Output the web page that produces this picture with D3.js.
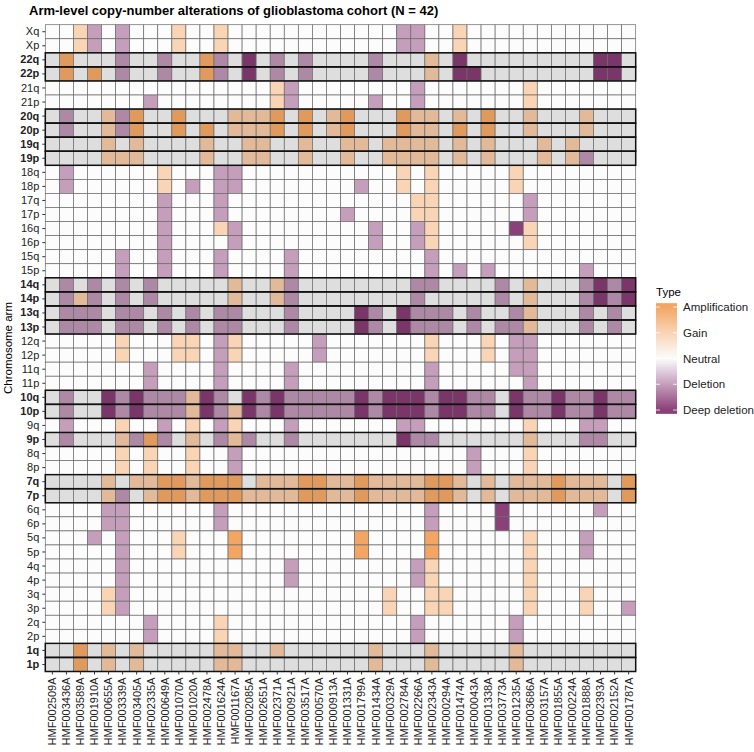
<!DOCTYPE html>
<html>
<head>
<meta charset="utf-8">
<script src="https://cdn.jsdelivr.net/npm/d3@7/dist/d3.min.js"></script>
<style>
  body { margin: 0; background: #fff; }
  text { font-family: "Liberation Sans", Arial, sans-serif; }
</style>
</head>
<body>
<svg id="chart" width="754" height="752"></svg>
<script>
// samples in plotting order (x axis)
var samples = ["HMF002509A","HMF003436A","HMF003589A","HMF001910A","HMF000655A","HMF003339A","HMF003405A",
  "HMF002335A","HMF000649A","HMF001070A","HMF001020A","HMF002478A","HMF001624A","HMF001167A",
  "HMF002085A","HMF002651A","HMF002371A","HMF000921A","HMF003517A","HMF000570A","HMF000913A",
  "HMF001331A","HMF001799A","HMF001434A","HMF000329A","HMF002784A","HMF002266A","HMF002343A",
  "HMF000294A","HMF001474A","HMF000043A","HMF001338A","HMF003773A","HMF001235A","HMF003686A",
  "HMF003157A","HMF001855A","HMF000224A","HMF001888A","HMF002393A","HMF002152A","HMF001787A"];

// chromosome arms, top to bottom
var arms = ["Xq","Xp","22q","22p","21q","21p","20q","20p","19q","19p","18q","18p","17q","17p",
  "16q","16p","15q","15p","14q","14p","13q","13p","12q","12p","11q","11p","10q","10p","9q","9p",
  "8q","8p","7q","7p","6q","6p","5q","5p","4q","4p","3q","3p","2q","2p","1q","1p"];

// arms shown in bold with grey band
var recurrentArms = ["22q","22p","20q","20p","19q","19p","14q","14p","13q","13p","10q","10p","9p","7q","7p","1q","1p"];

// one string per arm, one char per sample (groups of 7 samples)
// a = amplification, g = gain, . = neutral, d = deletion, D = deep deletion
var armCalls = [
  "..gd.d. ..g..g. ....... ....dd. .g..... .......", // Xq
  "..gd.d. ..g..g. ....... ....dd. .g..... .......", // Xp
  ".a...d. .d..ad. D.d.d.. ..d...g .D..... ....DD.", // 22q
  ".a.a.d. .d..ad. D.d.d.. ..d...g .DD.... ....DD.", // 22p
  "....... ....... ..gd... .....d. ......g .......", // 21q
  "....... d...... ..gd... ..d..d. ......g .......", // 21p
  ".d..gda ..a...g gga.a.g a...agg .g.a..g ...g...", // 20q
  ".d..gda ..a.a.g gga.a.g a...agg .a.a..g ...g...", // 20p
  "....g.g ....g.. gg..g.. gg.gggg .g.g... g.g....", // 19q
  "....ggg ....g.. gg..g.. g..gggg .g.g... g.gd...", // 19p
  ".d..... .g...dd ....... ....g.g .....g. .......", // 18q
  ".d..... .g.d.dd ....... .d..g.g .....g. .......", // 18p
  "....... .d...d. ....... .....gg ......d .......", // 17q
  "....... .d...d. ....... d....gg ......d .......", // 17p
  "....... .d...gd ....... ..d..dg .....Dg .......", // 16q
  "....... .d....d ....... ..d..dg ......g .......", // 16p
  ".....d. .d...d. ...d... ......d ....... .......", // 15q
  ".....d. .d...d. ...d... ......d .d.d... ...d...", // 15p
  ".d.d.d. d.....g ..gd... .....dd ....d.g ...dDdD", // 14q
  ".dgd.d. d.....g ..gd... .....d. ....d.g ...dDdD", // 14p
  ".ddd.dd .d.d.dd ...d... .Dd.Ddd d.d..dg ...d.d.", // 13q
  ".ddd.dd .d.d.dd ...d... .Dd.Ddd d.d.ddg ...d.d.", // 13p
  ".....g. ..gg.dg .....d. ......g ...g.dd .......", // 12q
  ".....g. ..gg.dg .....d. ......g ...g.dd .......", // 12p
  "....... d....d. ...d... ......d .....dd .......", // 11q
  "....... d....d. ...d... ......d ......d .......", // 11p
  ".d..DdD dddgDd. DdDdddd dDdDDDd DDdd.Dd dDddDdd", // 10q
  ".d..DdD dddgDdg DdDdddd dDdDDDd DDdd.Dd dDddDdd", // 10p
  ".d...g. .d.g.dg ...d... ....dd. ......g ...dd..", // 9q
  ".d...gd ad.g.dg d..d... ....Ddd ......g ...dd..", // 9p
  ".....g. g..g..d ....... ....... ..d...g .......", // 8q
  ".....g. g..g..d ....... ....... ..d...g .......", // 8p
  "....g.g gaagaaa .gggaag gagggga ag.g.gg gaggg.a", // 7q
  "....gd. gaagaaa ggggaag gagggga ag.g.gg gaggg.a", // 7p
  "....dd. .....d. ....... ......d ....D.. ....d..", // 6q
  "....dd. .....d. ....... ......d ....D.. .......", // 6p
  "...d.d. ..g...a ....... .a....a ......g ...d...", // 5q
  ".....d. ..g...a ....... .a....a ......g ...d...", // 5p
  ".....d. ....... ...d... .....dg ......g .......", // 4q
  ".....d. ....... ...d... .....dg ......g .......", // 4p
  "....gd. ....... ....... ...g..g g.....g ...g...", // 3q
  "....gd. ....... ....... ...g..g g.....g ...g..d", // 3p
  "....... d....g. ....... .....d. .....d. .......", // 2q
  "....... d....g. ....... .....d. .....d. .......", // 2p
  "..a.g.g .....gg ..g.... ..g...g .....g. .......", // 1q
  "..a.g.g .....gg ....... ..g...g .....g. ......."  // 1p
];

var callLevel = { "a": 2, "g": 1, ".": 0, "d": -1, "D": -2 };
var legendBreaks = [2, 1, 0, -1, -2];
var legendLabels = ["Amplification", "Gain", "Neutral", "Deletion", "Deep deletion"];

var svg = d3.select("#chart");

var x = d3.scaleBand().domain(samples).range([45.3, 635.7]);
var y = d3.scaleBand().domain(arms).range([24.7, 671.5]);

// colour on plain rows and on the grey highlighted rows
var colPlain = d3.scaleOrdinal().domain([2, 1, 0, -1, -2])
  .range(["#f3a664", "#f9d4b5", "#fcfcfc", "#c59ebc", "#8a4078"]);
var colBand = d3.scaleOrdinal().domain([2, 1, 0, -1, -2])
  .range(["#e19a5e", "#e3ba99", "#dedede", "#ae89a5", "#7b3669"]);

var cells = [];
arms.forEach(function(arm, i) {
  var s = armCalls[i].replace(/ /g, "");
  samples.forEach(function(smp, j) {
    cells.push({ arm: arm, sample: smp, v: callLevel[s[j]] });
  });
});

svg.append("g").selectAll("rect")
  .data(cells)
  .enter().append("rect")
  .attr("x", function(d) { return x(d.sample); })
  .attr("y", function(d) { return y(d.arm); })
  .attr("width", x.bandwidth())
  .attr("height", y.bandwidth())
  .attr("fill", function(d) {
    return recurrentArms.indexOf(d.arm) >= 0 ? colBand(d.v) : colPlain(d.v);
  })
  .attr("stroke", "#6a6a6a")
  .attr("stroke-width", 0.7);

// black outline for recurrent arms
svg.append("g").selectAll("rect")
  .data(recurrentArms)
  .enter().append("rect")
  .attr("x", 45.3)
  .attr("y", function(d) { return y(d); })
  .attr("width", 590.4)
  .attr("height", y.bandwidth())
  .attr("fill", "none")
  .attr("stroke", "#111")
  .attr("stroke-width", 1.5);

// axes
var yAxis = svg.append("g")
  .attr("transform", "translate(45.3,0)")
  .call(d3.axisLeft(y).tickSize(3).tickPadding(3));
yAxis.select(".domain").remove();
yAxis.selectAll(".tick line").attr("stroke", "#333");
yAxis.selectAll(".tick text")
  .attr("fill", "#222")
  .style("font-size", "11px")
  .style("font-weight", function(d) { return recurrentArms.indexOf(d) >= 0 ? "bold" : "normal"; });

var xAxis = svg.append("g")
  .attr("transform", "translate(0,671.5)")
  .call(d3.axisBottom(x).tickSize(3));
xAxis.select(".domain").remove();
xAxis.selectAll(".tick line").attr("stroke", "#333");
xAxis.selectAll(".tick text")
  .attr("transform", "rotate(-90)")
  .attr("x", -6)
  .attr("y", 0)
  .attr("dy", "0.35em")
  .style("text-anchor", "end")
  .style("font-size", "11px")
  .attr("fill", "#222");

// titles
svg.append("text")
  .attr("x", 29).attr("y", 14.5)
  .style("font-size", "13px")
  .style("font-weight", "bold")
  .text("Arm-level copy-number alterations of glioblastoma cohort (N = 42)");

svg.append("text")
  .attr("transform", "translate(12,348) rotate(-90)")
  .style("text-anchor", "middle")
  .style("font-size", "11.5px")
  .text("Chromosome arm");

// legend
var yL = d3.scaleLinear().domain([2, -2]).range([307, 410]);
var grad = svg.append("defs").append("linearGradient")
  .attr("id", "typegrad").attr("x1", 0).attr("x2", 0).attr("y1", 0).attr("y2", 1);
var gradColors = ["#f3a664", "#f9d4b5", "#fcfcfc", "#c59ebc", "#8a4078"];
legendBreaks.forEach(function(b, i) {
  grad.append("stop")
    .attr("offset", (yL(b) - yL(2.15)) / (yL(-2.15) - yL(2.15)))
    .attr("stop-color", gradColors[i]);
});

svg.append("text")
  .attr("x", 656).attr("y", 296)
  .style("font-size", "11.5px")
  .text("Type");

svg.append("rect")
  .attr("x", 656).attr("y", yL(2.15))
  .attr("width", 21).attr("height", yL(-2.15) - yL(2.15))
  .attr("fill", "url(#typegrad)");

svg.append("g").selectAll("line")
  .data(legendBreaks)
  .enter().append("line")
  .attr("x1", 656).attr("x2", 660)
  .attr("y1", function(d) { return yL(d); })
  .attr("y2", function(d) { return yL(d); })
  .attr("stroke", "#fff").attr("stroke-width", 0.8);
svg.append("g").selectAll("line")
  .data(legendBreaks)
  .enter().append("line")
  .attr("x1", 673).attr("x2", 677)
  .attr("y1", function(d) { return yL(d); })
  .attr("y2", function(d) { return yL(d); })
  .attr("stroke", "#fff").attr("stroke-width", 0.8);

svg.append("g").selectAll("text")
  .data(legendBreaks)
  .enter().append("text")
  .attr("x", 683)
  .attr("y", function(d) { return yL(d); })
  .attr("dy", "0.35em")
  .style("font-size", "11.5px")
  .attr("fill", "#222")
  .text(function(d, i) { return legendLabels[i]; });
</script>
</body>
</html>
